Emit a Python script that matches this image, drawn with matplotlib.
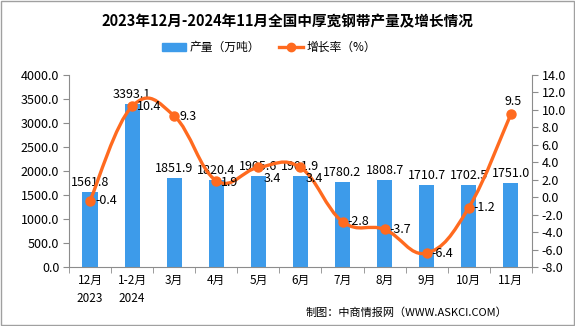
import numpy as np
import matplotlib
matplotlib.use("Agg")
import matplotlib.pyplot as plt
from matplotlib.path import Path
from matplotlib.patches import PathPatch, Rectangle
from matplotlib.lines import Line2D

plt.rcParams['font.family'] = ['Noto Sans CJK SC', 'DejaVu Sans']

# data
months = ['12月\n2023', '1-2月\n2024', '3月', '4月', '5月', '6月',
          '7月', '8月', '9月', '10月', '11月']
output = [1561.8, 3393.1, 1851.9, 1820.4, 1905.6, 1901.9,
          1780.2, 1808.7, 1710.7, 1702.5, 1751.0]
growth = [-0.4, 10.4, 9.3, 1.9, 3.4, 3.4, -2.8, -3.7, -6.4, -1.2, 9.5]

BAR_C = '#3D9BEA'
LINE_C = '#FF6A1F'
AX_C = '#8C8C8C'
NUM_FS = 9

fig = plt.figure(figsize=(5.75, 3.26), dpi=100)
ax = fig.add_axes([0.12, 0.181, 0.805, 0.589])
ax2 = ax.twinx()

x = np.arange(len(months))
ax.bar(x, output, width=0.36, color=BAR_C, zorder=2)
ax.set_xlim(-0.5, len(months) - 0.5)
ax.set_ylim(0, 4000)
ax.set_yticks(np.arange(0, 4001, 500))
ax.set_yticklabels(['%.1f' % v for v in np.arange(0, 4001, 500)])
ax.set_xticks(x)
ax.set_xticklabels(months, fontsize=8.5, linespacing=1.5)
ax.tick_params(axis='x', length=0, pad=5)
ax.set_xticks(np.arange(-0.5, len(months), 1), minor=True)
ax.tick_params(axis='x', which='minor', length=4, color=AX_C)
ax.tick_params(axis='y', length=4, color=AX_C, labelsize=NUM_FS, pad=3)

for xi, v in zip(x, output):
    ax.text(xi, v + 60, '%.1f' % v, ha='center', va='bottom', fontsize=NUM_FS)

ax2.set_ylim(-8, 14)
ax2.set_yticks(np.arange(-8, 14.1, 2))
ax2.set_yticklabels(['%.1f' % v for v in np.arange(-8, 14.1, 2)])
ax2.tick_params(axis='y', length=4, color=AX_C, labelsize=NUM_FS, pad=3)

# smooth line (cubic bezier through the data points)
pts = np.column_stack([x, growth]).astype(float)
verts = [pts[0]]
codes = [Path.MOVETO]
k = 1 / 5.0
for i in range(len(pts) - 1):
    p0 = pts[i - 1] if i > 0 else pts[i]
    p1 = pts[i]
    p2 = pts[i + 1]
    p3 = pts[i + 2] if i + 2 < len(pts) else pts[i + 1]
    c1 = p1 + (p2 - p0) * k
    c2 = p2 - (p3 - p1) * k
    verts += [c1, c2, p2]
    codes += [Path.CURVE4] * 3
ax2.add_patch(PathPatch(Path(verts, codes), facecolor='none',
                        edgecolor=LINE_C, lw=2.4, zorder=3))
ax2.plot(x, growth, 'o', color=LINE_C, ms=6.5, zorder=4)

# label nudges (value units) so the rate labels sit as in the reference
nudge = [0, 0, 0, -0.2, -1.3, -1.3, 0, 0, 0, 0, 0]
for xi, v, dy in zip(x, growth, nudge):
    if xi == len(months) - 1:
        ax2.text(xi + 0.05, v + 0.7, '%.1f' % v, ha='center', va='bottom',
                 fontsize=NUM_FS)
    else:
        ax2.text(xi + 0.12, v + dy, '%.1f' % v, ha='left', va='center',
                 fontsize=NUM_FS)

for a in (ax, ax2):
    a.spines['top'].set_visible(False)
    for s in ('left', 'right', 'bottom'):
        a.spines[s].set_color(AX_C)
ax.spines['right'].set_visible(False)
ax2.spines['left'].set_visible(False)
ax2.spines['bottom'].set_visible(False)

fig.text(0.5, 0.935, '2023年12月-2024年11月全国中厚宽钢带产量及增长情况',
         ha='center', va='center', fontsize=10.5, fontweight='bold')

handles = [Rectangle((0, 0), 1, 1, color=BAR_C),
           Line2D([0], [0], color=LINE_C, lw=2.4, marker='o', ms=6)]
fig.legend(handles, ['产量（万吨）', '增长率（%）'], loc='center',
           bbox_to_anchor=(0.468, 0.855), ncol=2, frameon=False, fontsize=8.5,
           handlelength=2.0, columnspacing=1.6, handletextpad=0.3)

fig.text(0.883, 0.04, '制图：中商情报网（WWW.ASKCI.COM）', ha='right',
         va='center', fontsize=8)

fig.add_artist(Rectangle((0.001, 0.002), 0.997, 0.995, transform=fig.transFigure,
                         fill=False, edgecolor='#A0A0A0', lw=1))

fig.savefig('out.png', dpi=100)
